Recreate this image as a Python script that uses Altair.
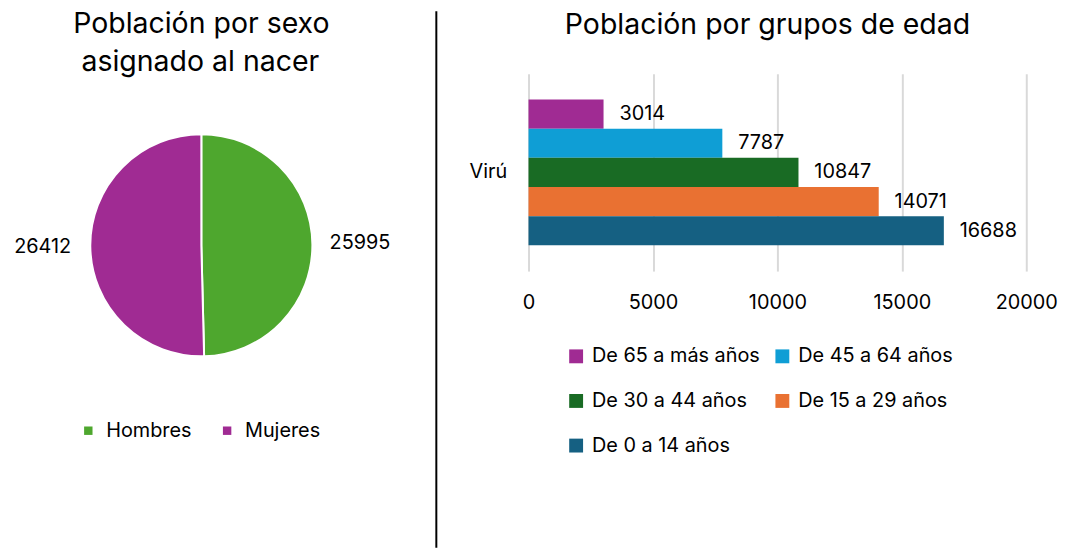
import altair as alt
import pandas as pd

FONT = "Inter"

# ---- data ----
sexo = ["Hombres", "Mujeres"]
sexo_vals = [25995, 26412]
sexo_colors = ["#4EA72E", "#A02B93"]

grupos = ["De 65 a más años", "De 45 a 64 años", "De 30 a 44 años",
          "De 15 a 29 años", "De 0 a 14 años"]
grupo_vals = [3014, 7787, 10847, 14071, 16688]
grupo_colors = ["#A02B93", "#0F9ED5", "#196B24", "#E97132", "#156082"]
lugar = "Virú"
x_ticks = [0, 5000, 10000, 15000, 20000]

titulo_izq = ["Población por sexo", "asignado al nacer"]
titulo_der = "Población por grupos de edad"

# ---- left panel: pie ----
pie_df = pd.DataFrame({"sexo": sexo, "valor": sexo_vals, "orden": list(range(len(sexo)))})
CX, CY = 195, 173

base_pie = alt.Chart(pie_df).encode(
    theta=alt.Theta("valor:Q", stack=True),
    order=alt.Order("orden:Q"),
)
arcs = base_pie.mark_arc(outerRadius=112, stroke="white", strokeWidth=2).encode(
    x=alt.value(CX), y=alt.value(CY),
    color=alt.Color("sexo:N", scale=alt.Scale(domain=sexo, range=sexo_colors),
                    legend=alt.Legend(title=None, orient="none", legendX=71, legendY=350,
                                      direction="horizontal", symbolType="square",
                                      symbolSize=72, symbolStrokeWidth=0,
                                      labelFontSize=20, labelFont=FONT, labelColor="black",
                                      columnPadding=25, padding=0, labelOffset=8)),
)
pie_labels = base_pie.mark_text(radius=160, fontSize=20, font=FONT, color="black").encode(
    x=alt.value(CX), y=alt.value(CY), text=alt.Text("valor:Q", format="d"),
)

t1 = alt.Chart(pd.DataFrame({"t": [titulo_izq[0]]})).mark_text(
    fontSize=28.7, font=FONT, color="black", baseline="alphabetic").encode(
    text="t:N", x=alt.value(195), y=alt.value(-41))
t2 = alt.Chart(pd.DataFrame({"t": [titulo_izq[1]]})).mark_text(
    fontSize=28.7, font=FONT, color="black", baseline="alphabetic").encode(
    text="t:N", x=alt.value(194), y=alt.value(-3))

sep = alt.Chart(pd.DataFrame({"a": [0]})).mark_rule(color="black", strokeWidth=2).encode(
    x=alt.value(432), y=alt.value(-63), y2=alt.value(478))

left = alt.layer(arcs, pie_labels, t1, t2, sep).properties(width=430, height=478)

# ---- right panel: bars ----
bar_df = pd.DataFrame({"lugar": [lugar] * len(grupos), "grupo": grupos, "valor": grupo_vals})

y_enc = alt.Y("lugar:N", title=None,
              scale=alt.Scale(paddingInner=0, paddingOuter=0.177),
              axis=alt.Axis(domain=False, ticks=False, tickSize=0, labelPadding=22,
                            labelFontSize=20, labelFont=FONT, labelColor="black",
                            minExtent=92, maxExtent=92))
yoff = alt.YOffset("grupo:N", sort=grupos, scale=alt.Scale(paddingInner=0, paddingOuter=0))
x_enc = alt.X("valor:Q", title=None, scale=alt.Scale(domain=[0, 20000]),
              axis=alt.Axis(values=x_ticks, format="d", domain=False, ticks=False, tickSize=0,
                            labelPadding=22, labelFlush=False, grid=True,
                            gridColor="#d9d9d9", gridWidth=2,
                            labelFontSize=20, labelFont=FONT, labelColor="black"))

bars = alt.Chart(bar_df).mark_bar().encode(
    x=x_enc, y=y_enc, yOffset=yoff,
    color=alt.Color("grupo:N", scale=alt.Scale(domain=grupos, range=grupo_colors),
                    legend=alt.Legend(title=None, orient="none", legendX=38, legendY=275,
                                      direction="horizontal", columns=2,
                                      symbolType="square", symbolSize=196,
                                      symbolStrokeWidth=0, labelFontSize=20, labelFont=FONT,
                                      labelColor="black", labelLimit=400, rowPadding=25,
                                      columnPadding=12, padding=0, labelOffset=6)),
)
bar_labels = alt.Chart(bar_df).mark_text(align="left", dx=16, fontSize=20, font=FONT,
                                         color="black").encode(
    x="valor:Q", y="lugar:N", yOffset=alt.YOffset("grupo:N", sort=grupos),
    text=alt.Text("valor:Q", format="d"),
)

right = alt.layer(bars, bar_labels).properties(
    width=502, height=199,
    title=alt.TitleParams(titulo_der, fontSize=28.7, font=FONT, fontWeight="normal",
                          color="black", anchor="middle", frame="group", offset=34, dx=-10),
)

chart = alt.hconcat(left, right, spacing=0).resolve_scale(
    color="independent", theta="independent"
).configure_view(stroke=None).properties(padding=0)

chart.save("out.html", embed_options={"renderer": "svg", "actions": False})
